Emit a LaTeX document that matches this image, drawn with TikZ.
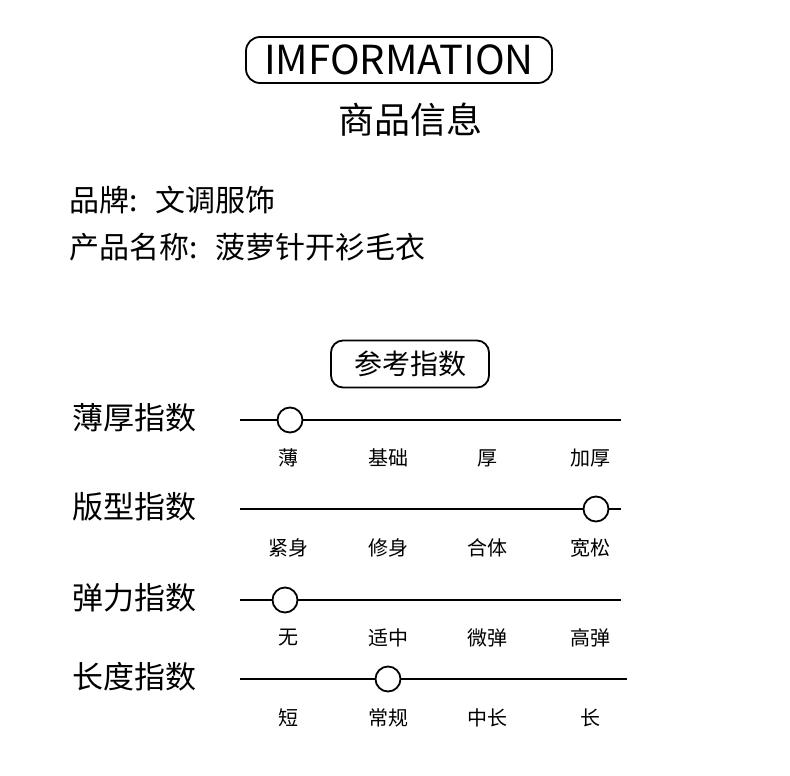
\documentclass[tikz,border=0pt]{standalone}
\usepackage{fontspec}
\setmainfont{Noto Sans CJK SC}
\begin{document}
\begin{tikzpicture}[x=1pt,y=-1pt,
  ttl/.style={font=\fontsize{31}{33}\selectfont,anchor=west},
  sub/.style={font=\fontsize{20}{22}\selectfont},
  info/.style={font=\fontsize{30}{32}\selectfont,anchor=west},
  track/.style={line width=1.3pt},
  knob/.style={circle,draw,line width=1.8pt,fill=white,minimum size=25pt,inner sep=0pt}]
\useasboundingbox (0,0) rectangle (790,776);
\node[draw,line width=1.8pt,rounded corners=14pt,minimum width=306pt,minimum height=46pt,inner sep=0pt,font=\fontsize{40}{42}\selectfont] (hd) at (399,60) {IMFORMATION};
\node[font=\fontsize{36}{38}\selectfont] (sp) at (410,120) {商品信息};
\node[info] (brand) at (66,200) {品牌:\hspace{0.6em}文调服饰};
\node[info] (name) at (66,247) {产品名称:\hspace{0.6em}菠萝针开衫毛衣};
\node[draw,line width=1.8pt,rounded corners=12pt,minimum width=158pt,minimum height=47pt,inner sep=0pt,font=\fontsize{28}{30}\selectfont] (ref) at (410,364) {参考指数};
\foreach \i/\t/\y/\xe/\k/\a/\b/\c/\d/\ly in {1/薄厚指数/420/621/290/薄/基础/厚/加厚/458,2/版型指数/509/621/596/紧身/修身/合体/宽松/548,3/弹力指数/600/621/285/无/适中/微弹/高弹/638,4/长度指数/679/627/388/短/常规/中长/长/718}{
  \node[ttl] (t\i) at (69,\y-2) {\t};
  \coordinate (s\i) at (240,\y);
  \coordinate (e\i) at (\xe,\y);
  \draw[track] (s\i) -- (e\i);
  \node[knob] (k\i) at (\k,\y) {};
  \node[sub] (a\i) at (288,\ly) {\a};
  \node[sub] (b\i) at (388,\ly) {\b};
  \node[sub] (c\i) at (487,\ly) {\c};
  \node[sub] (d\i) at (590,\ly) {\d};
}
\end{tikzpicture}
\end{document}
